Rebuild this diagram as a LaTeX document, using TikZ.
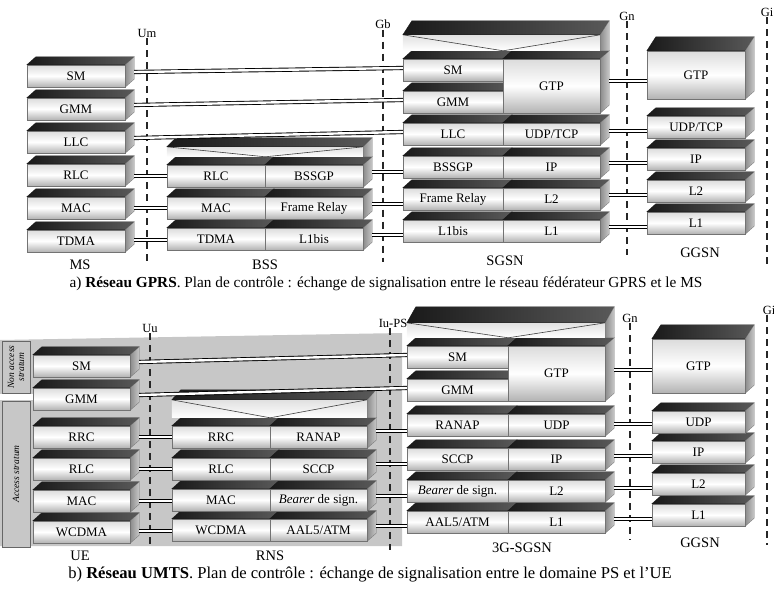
\documentclass[tikz,border=0pt]{standalone}
\usepackage{fontspec}
\setmainfont{Liberation Serif}
\usetikzlibrary{calc}
\pgfdeclarelayer{back}
\pgfdeclarelayer{mid}
\pgfsetlayers{back,mid,main}

\tikzset{
  proto/.style={draw=black!55, line width=0.4pt, top color=black!14, bottom color=black!30, middle color=white, inner sep=0pt, minimum height=22pt, font=\fontsize{13}{13}\selectfont},
  slabfill/.style={left color=black!90, right color=black!65, draw=black!90, line width=0.3pt},
  sidefill/.style={left color=black!45, right color=black!22, draw=black!55, line width=0.3pt},
  peer/.style={draw=black, line width=0.9pt, double=white, double distance=2.4pt},
  iface/.style={draw=black!85, line width=1.5pt, dash pattern=on 7pt off 5pt},
  ifacelbl/.style={font=\fontsize{12.5}{12.5}\selectfont, inner sep=1pt},
  station/.style={font=\fontsize{14.5}{14.5}\selectfont, inner sep=0pt},
  caption/.style={font=\fontsize{15.3}{15.3}\selectfont, inner sep=0pt},
  stratum/.style={draw=black!60, fill=black!22, rotate=90, inner sep=1pt, minimum height=28pt, font=\fontsize{9.5}{10}\selectfont\itshape, align=center},
}

% top and side of a protocol block
\newcommand{\slab}[2][8pt]{%
  \begin{pgfonlayer}{mid}
  \path[slabfill] (#2.north west) -- ++(9pt,#1) -- ($(#2.north east)+(9pt,#1)$) -- (#2.north east) -- cycle;
  \end{pgfonlayer}}
\newcommand{\side}[2][8pt]{%
  \begin{pgfonlayer}{mid}
  \path[sidefill] (#2.north east) -- ++(9pt,#1) -- ($(#2.south east)+(9pt,8pt)$) -- (#2.south east) -- cycle;
  \end{pgfonlayer}}
% common top of a two column node: #3 height of front, #4 depth of top
\newcommand{\cover}[4]{%
  \begin{pgfonlayer}{mid}
  \coordinate (cl) at ($(#1.north west)+(0pt,8pt)$);
  \coordinate (cm) at ($(#1.north east)+(0pt,8pt)$);
  \coordinate (cr) at ($(#2.north east)+(0pt,8pt)$);
  \coordinate (ctl) at ($(cl)+(0pt,#3)$);
  \coordinate (ctr) at ($(cr)+(0pt,#3)$);
  \path[top color=black!12, bottom color=white] (cl) rectangle (ctr);
  \draw[black!75, line width=0.6pt] (ctl) -- (cm) -- (ctr);
  \path[slabfill] (ctl) -- ++(9pt,#4) -- ($(ctr)+(9pt,#4)$) -- (ctr) -- cycle;
  \path[sidefill] (ctr) -- ++(9pt,#4) -- ($(cr)+(9pt,0pt)$) -- (cr) -- cycle;
  \end{pgfonlayer}}
% peer to peer links
\newcommand{\peerline}[2]{\draw[peer] ($(#1.east)+(9pt,4pt)$) -- ($(#2.west)+(0pt,2pt)$);}
\newcommand{\peerbar}[2]{%
  \draw[peer] let \p1=($(#1.east)+(9pt,0pt)$), \p2=(#2.west) in
    (\x1,{round(0.5*\y1+0.5*\y2)}) -- (\x2,{round(0.5*\y1+0.5*\y2)});}

\begin{document}
\begin{tikzpicture}[x=1pt, y=-1pt]
\useasboundingbox (0,0) rectangle (774,589);

%%% a) GPRS
% MS
\foreach \n/\t/\y in {sm/SM/76, gmm/GMM/109, llc/LLC/142, rlc/RLC/175, mac/MAC/208, tdma/TDMA/241}{
  \node[proto, minimum width=98pt] (ms-\n) at (76,\y) {\t};
  \slab{ms-\n}\side{ms-\n}
}
% BSS
\foreach \n/\m/\a/\b/\y in {rlc/bssgp/RLC/BSSGP/176, mac/fr/MAC/Frame Relay/208, tdma/lbis/TDMA/L1bis/239}{
  \node[proto, minimum width=98pt] (bss-\n) at (216,\y) {\a};
  \node[proto, minimum width=98pt] (bss-\m) at (314,\y) {\b};
  \slab{bss-\n}\slab{bss-\m}\side{bss-\m}
}
\cover{bss-rlc}{bss-bssgp}{10pt}{9pt}
% SGSN
\foreach \n/\t/\y in {sm/SM/70, gmm/GMM/102, llc/LLC/134, bssgp/BSSGP/167, fr/Frame Relay/199, lbis/L1bis/231}{
  \node[proto, minimum width=100pt] (sgsn-\n) at (453,\y) {\t};
  \slab{sgsn-\n}
}
\node[proto, minimum width=97pt, minimum height=54pt] (sgsn-gtp) at (551.5,86) {GTP};
\slab{sgsn-gtp}\side{sgsn-gtp}
\foreach \n/\t/\y in {udp/{UDP/TCP}/134, ip/IP/167, l2/L2/199, l1/L1/231}{
  \node[proto, minimum width=97pt] (sgsn-\n) at (551.5,\y) {\t};
  \slab{sgsn-\n}\side{sgsn-\n}
}
\cover{sgsn-sm}{sgsn-gtp}{16pt}{14pt}
% GGSN
\node[proto, minimum width=98pt, minimum height=48pt] (ggsn-gtp) at (696,75) {GTP};
\slab[14pt]{ggsn-gtp}\side[14pt]{ggsn-gtp}
\foreach \n/\t/\y in {udp/{UDP/TCP}/127, ip/IP/159, l2/L2/191, l1/L1/223}{
  \node[proto, minimum width=98pt] (ggsn-\n) at (696,\y) {\t};
  \slab{ggsn-\n}\side{ggsn-\n}
}

% interfaces
\node[ifacelbl] (um) at (147,33) {Um};
\node[ifacelbl] (gb) at (383,24) {Gb};
\node[ifacelbl] (gn) at (627,16) {Gn};
\node[ifacelbl] (gi) at (767,12) {Gi};
\coordinate (um-end) at (147,266);
\coordinate (gb-end) at (383,262);
\coordinate (gn-end) at (627,255);
\coordinate (gi-end) at (767,265);
\foreach \i in {um,gb,gn,gi}
  \draw[iface] (\i) -- (\i-end);

% peers
\peerline{ms-sm}{sgsn-sm}
\peerline{ms-gmm}{sgsn-gmm}
\peerline{ms-llc}{sgsn-llc}
\peerbar{ms-rlc}{bss-rlc}
\peerbar{ms-mac}{bss-mac}
\peerbar{ms-tdma}{bss-tdma}
\peerbar{bss-bssgp}{sgsn-bssgp}
\peerbar{bss-fr}{sgsn-fr}
\peerbar{bss-lbis}{sgsn-lbis}
\peerbar{sgsn-gtp}{ggsn-gtp}
\peerbar{sgsn-udp}{ggsn-udp}
\peerbar{sgsn-ip}{ggsn-ip}
\peerbar{sgsn-l2}{ggsn-l2}
\peerbar{sgsn-l1}{ggsn-l1}

\node[station] (ms) at (80,265) {MS};
\node[station] (bss) at (265,265) {BSS};
\node[station] (sgsn) at (505,261) {SGSN};
\node[station] (ggsn) at (700,253) {GGSN};
\node[caption] (cap-a) at (386,284) {a) \textbf{Réseau GPRS}. Plan de contrôle : échange de signalisation entre le réseau fédérateur GPRS et le MS};

%%% b) UMTS
\begin{pgfonlayer}{back}
  \fill[black!22] (0,340) -- (402,333) -- (402,546) -- (0,546) -- cycle;
  \fill[white] (0,394) rectangle (33,400);
\end{pgfonlayer}
\node[stratum, minimum width=52pt] (nas) at (16,367) {Non access\\stratum};
\node[stratum, minimum width=146pt] (as) at (16,474) {Access stratum};
% UE
\foreach \n/\t/\y in {sm/SM/366, gmm/GMM/399, rrc/RRC/437, rlc/RLC/469, mac/MAC/501, wcdma/WCDMA/532}{
  \node[proto, minimum width=97pt] (ue-\n) at (81.5,\y) {\t};
  \slab{ue-\n}\side{ue-\n}
}
% RNS
\foreach \n/\m/\a/\b/\y in {rrc/ranap/RRC/RANAP/437, rlc/sccp/RLC/SCCP/469, mac/bearer/MAC/\textit{Bearer} de sign./500, wcdma/aal/WCDMA/{AAL5/ATM}/530}{
  \node[proto, minimum width=98pt] (rns-\n) at (221,\y) {\a};
  \node[proto, minimum width=97pt] (rns-\m) at (318.5,\y) {\b};
  \slab{rns-\n}\slab{rns-\m}\side{rns-\m}
}
\cover{rns-rrc}{rns-ranap}{18pt}{10pt}
% 3G-SGSN
\foreach \n/\t/\y in {sm/SM/357, gmm/GMM/390, ranap/RANAP/425, sccp/SCCP/459, bearer/\textit{Bearer} de sign./491, aal/{AAL5/ATM}/522}{
  \node[proto, minimum width=101pt] (sg-\n) at (457.5,\y) {\t};
  \slab{sg-\n}
}
\node[proto, minimum width=97pt, minimum height=55pt] (sg-gtp) at (556.5,373.5) {GTP};
\slab{sg-gtp}\side{sg-gtp}
\foreach \n/\t/\y in {udp/UDP/425, ip/IP/459, l2/L2/491, l1/L1/522}{
  \node[proto, minimum width=97pt] (sg-\n) at (556.5,\y) {\t};
  \slab{sg-\n}\side{sg-\n}
}
\cover{sg-sm}{sg-gtp}{15pt}{16pt}
% GGSN
\node[proto, minimum width=93pt, minimum height=54pt] (gg-gtp) at (698.5,366) {GTP};
\slab[14pt]{gg-gtp}\side[14pt]{gg-gtp}
\foreach \n/\t/\y in {udp/UDP/422, ip/IP/452, l2/L2/484, l1/L1/515}{
  \node[proto, minimum width=93pt] (gg-\n) at (698.5,\y) {\t};
  \slab{gg-\n}\side{gg-\n}
}

% interfaces
\node[ifacelbl] (uu) at (150,328) {Uu};
\node[ifacelbl] (iups) at (393,323) {Iu-PS};
\node[ifacelbl] (gn2) at (630,318) {Gn};
\node[ifacelbl] (gi2) at (769,310) {Gi};
\coordinate (uu-end) at (150,548);
\coordinate (iups-end) at (390,550);
\coordinate (gn2-end) at (630,540);
\coordinate (gi2-end) at (767,545);
\draw[iface] (uu) -- (uu-end);
\draw[iface] (iups.south -| iups-end) -- (iups-end);
\draw[iface] (gn2) -- (gn2-end);
\draw[iface] (gi2.south -| gi2-end) -- (gi2-end);

% peers
\peerline{ue-sm}{sg-sm}
\peerline{ue-gmm}{sg-gmm}
\peerbar{ue-rrc}{rns-rrc}
\peerbar{ue-rlc}{rns-rlc}
\peerbar{ue-mac}{rns-mac}
\peerbar{ue-wcdma}{rns-wcdma}
\peerbar{rns-ranap}{sg-ranap}
\peerbar{rns-sccp}{sg-sccp}
\peerbar{rns-bearer}{sg-bearer}
\peerbar{rns-aal}{sg-aal}
\peerbar{sg-gtp}{gg-gtp}
\peerbar{sg-udp}{gg-udp}
\peerbar{sg-ip}{gg-ip}
\peerbar{sg-l2}{gg-l2}
\peerbar{sg-l1}{gg-l1}

\node[station] (ue) at (80,556) {UE};
\node[station] (rns) at (270,556) {RNS};
\node[station] (sg) at (522,548) {3G-SGSN};
\node[station] (gg) at (700,543) {GGSN};
\node[caption, font=\fontsize{16.6}{16.6}\selectfont] (cap-b) at (370,575) {b) \textbf{Réseau UMTS}. Plan de contrôle : échange de signalisation entre le domaine PS et l'UE};
\end{tikzpicture}
\end{document}
